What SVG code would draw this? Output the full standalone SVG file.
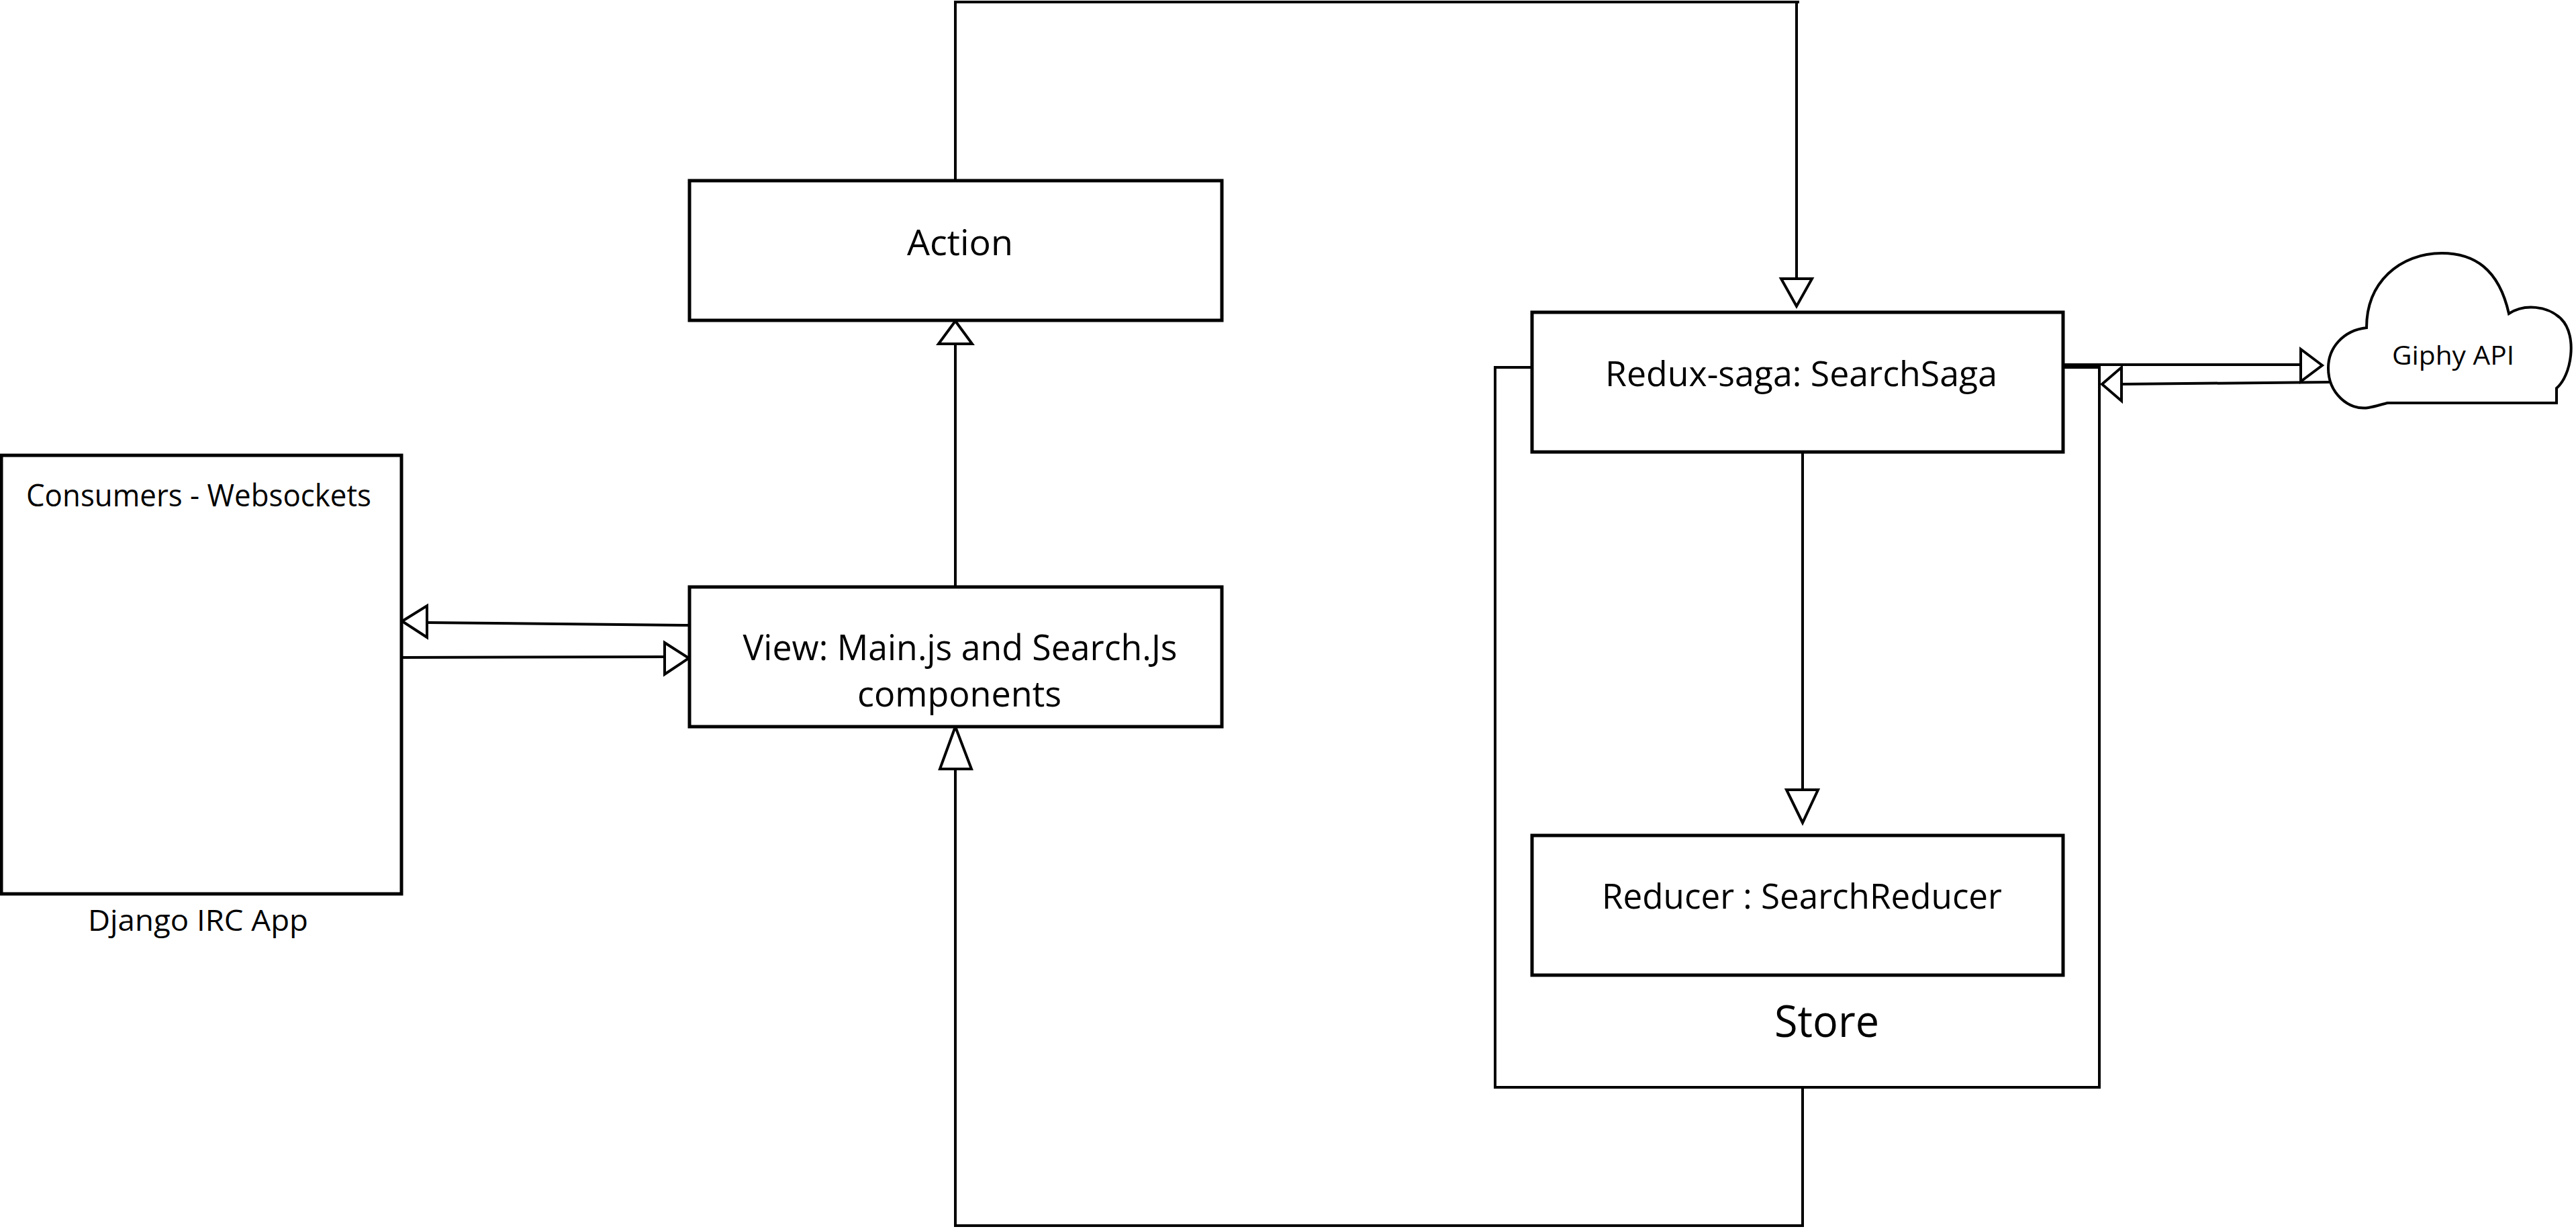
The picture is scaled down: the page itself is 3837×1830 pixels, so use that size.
<svg xmlns="http://www.w3.org/2000/svg" width="3837" height="1830" viewBox="0 0 3837 1830">
<style>
.box{fill:#fff;stroke:#000;stroke-width:5}
.store{fill:#fff;stroke:#000;stroke-width:4}
.ln{fill:none;stroke:#000;stroke-width:4}
.ah{fill:#fff;stroke:#000;stroke-width:4;stroke-linejoin:miter}
.t{font-family:"Open Sans","Noto Sans","Liberation Sans",sans-serif;fill:#000;text-anchor:middle}
</style>
<rect x="0" y="0" width="3837" height="1830" fill="#fff"/>
<g id="store">
<rect class="store" x="2227" y="547" width="900" height="1072"/>
<text class="t" x="2721" y="1544" font-size="66" textLength="156" lengthAdjust="spacingAndGlyphs">Store</text>
</g>
<g id="connectors">
<polyline class="ln" points="1423,874 1423,512"/>
<polygon class="ah" points="1423,478 1398,512 1448,512"/>
<polyline class="ln" points="1423,269 1423,3 2680,3"/>
<polyline class="ln" points="2676,3 2676,415"/>
<polygon class="ah" points="2676,456 2653,415 2699,415"/>
<polyline class="ln" points="2685,673 2685,1176"/>
<polygon class="ah" points="2685,1225 2661,1176 2708,1176"/>
<polyline class="ln" points="2685,1619 2685,1825 1423,1825 1423,1145"/>
<polygon class="ah" points="1423,1082 1400,1145 1447,1145"/>
<polyline class="ln" points="1027,931 636,927"/>
<polygon class="ah" points="599,925 636,902 636,949"/>
<polyline class="ln" points="598,979 990,978"/>
<polygon class="ah" points="1026,980 990,957 990,1004"/>
<polyline class="ln" points="3073,543 3427,543"/>
<polygon class="ah" points="3459,544 3427,520 3427,568"/>
<polyline class="ln" points="3470,569 3160,572"/>
<polygon class="ah" points="3131,572 3160,547 3160,597"/>
</g>
<g id="action">
<rect class="box" x="1027" y="269" width="793" height="208"/>
<text class="t" x="1430" y="380" font-size="53" textLength="158" lengthAdjust="spacingAndGlyphs">Action</text>
</g>
<g id="view">
<rect class="box" x="1027" y="874" width="793" height="208"/>
<text class="t" x="1430" y="983" font-size="53" textLength="647" lengthAdjust="spacingAndGlyphs">View: Main.js and Search.Js</text>
<text class="t" x="1429" y="1052" font-size="53" textLength="304" lengthAdjust="spacingAndGlyphs">components</text>
</g>
<g id="consumers">
<rect class="box" x="2" y="678" width="596" height="653"/>
<text class="t" x="296" y="754" font-size="46" textLength="514" lengthAdjust="spacingAndGlyphs">Consumers - Websockets</text>
<text class="t" x="295" y="1386" font-size="44" textLength="328" lengthAdjust="spacingAndGlyphs">Django IRC App</text>
</g>
<g id="searchsaga">
<rect class="box" x="2282" y="465" width="791" height="208"/>
<text class="t" x="2683" y="575" font-size="51" textLength="584" lengthAdjust="spacingAndGlyphs">Redux-saga: SearchSaga</text>
</g>
<g id="reducer">
<rect class="box" x="2282" y="1244" width="791" height="208"/>
<text class="t" x="2684" y="1353" font-size="51" textLength="596" lengthAdjust="spacingAndGlyphs">Reducer : SearchReducer</text>
</g>
<g id="giphy">
<path class="box" style="stroke-width:4" d="M3557,600 L3808,600 L3808,578 C3830,560 3840,500 3815,475 C3795,455 3760,452 3737,467 C3722,400 3685,377 3637,377 C3575,377 3525,420 3525,488 C3490,492 3468,518 3468,548 C3468,585 3498,612 3528,607 C3540,605 3550,601 3557,600 Z"/>
<text class="t" x="3654" y="543" font-size="38" textLength="182" lengthAdjust="spacingAndGlyphs">Giphy API</text>
</g>
</svg>
